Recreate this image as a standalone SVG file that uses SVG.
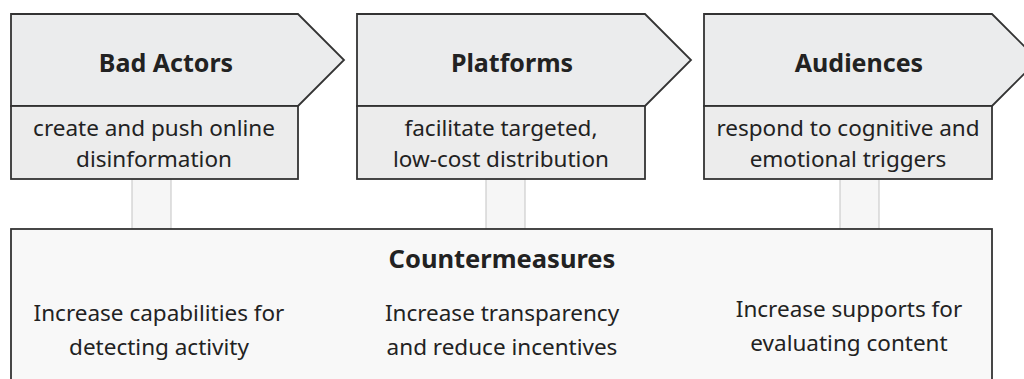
<svg xmlns="http://www.w3.org/2000/svg" width="1024" height="379" viewBox="0 0 1024 379">
<style>
.hdr{fill:#ebeced;stroke:#333;stroke-width:1.8;stroke-linejoin:miter}
.sub{fill:#ececec;stroke:#333;stroke-width:1.8}
.cm{fill:#f8f8f8;stroke:#333;stroke-width:1.8}
.conn{fill:#f6f6f6;stroke:#c4c4c4;stroke-width:1}
.t{font-family:"Noto Sans","Open Sans",sans-serif;fill:#222;text-anchor:middle}
.h{font-size:25px;font-weight:bold}
.c{font-size:25.5px;font-weight:bold}
.s{font-size:22.5px}
.b{font-size:22.5px}
</style>
<rect width="1024" height="379" fill="#ffffff"/>
<g id="connectors">
<rect class="conn" x="132" y="179" width="39" height="50"/>
<rect class="conn" x="486" y="179" width="39" height="50"/>
<rect class="conn" x="840" y="179" width="39" height="50"/>
</g>
<g id="bad-actors">
<polygon class="hdr" points="11,14 298,14 344,60 298,106 11,106"/>
<text class="t h" x="166" y="72">Bad Actors</text>
<rect class="sub" x="11" y="106" width="287" height="73"/>
<text class="t s" x="154" y="136">create and push online</text>
<text class="t s" x="154" y="167">disinformation</text>
</g>
<g id="platforms">
<polygon class="hdr" points="357,14 645,14 691,60 645,106 357,106"/>
<text class="t h" x="512" y="72">Platforms</text>
<rect class="sub" x="357" y="106" width="288" height="73"/>
<text class="t s" x="501" y="136">facilitate targeted,</text>
<text class="t s" x="501" y="167">low-cost distribution</text>
</g>
<g id="audiences">
<polygon class="hdr" points="704,14 992,14 1038,60 992,106 704,106"/>
<text class="t h" x="859" y="72">Audiences</text>
<rect class="sub" x="704" y="106" width="288" height="73"/>
<text class="t s" x="848" y="136">respond to cognitive and</text>
<text class="t s" x="848" y="167">emotional triggers</text>
</g>
<g id="countermeasures">
<rect class="cm" x="11" y="229" width="981" height="170"/>
<text class="t c" x="502" y="268">Countermeasures</text>
<text class="t b" x="159" y="321">Increase capabilities for</text>
<text class="t b" x="159" y="355">detecting activity</text>
<text class="t b" x="502" y="321">Increase transparency</text>
<text class="t b" x="502" y="355">and reduce incentives</text>
<text class="t b" x="849" y="317">Increase supports for</text>
<text class="t b" x="849" y="351">evaluating content</text>
</g>
</svg>
